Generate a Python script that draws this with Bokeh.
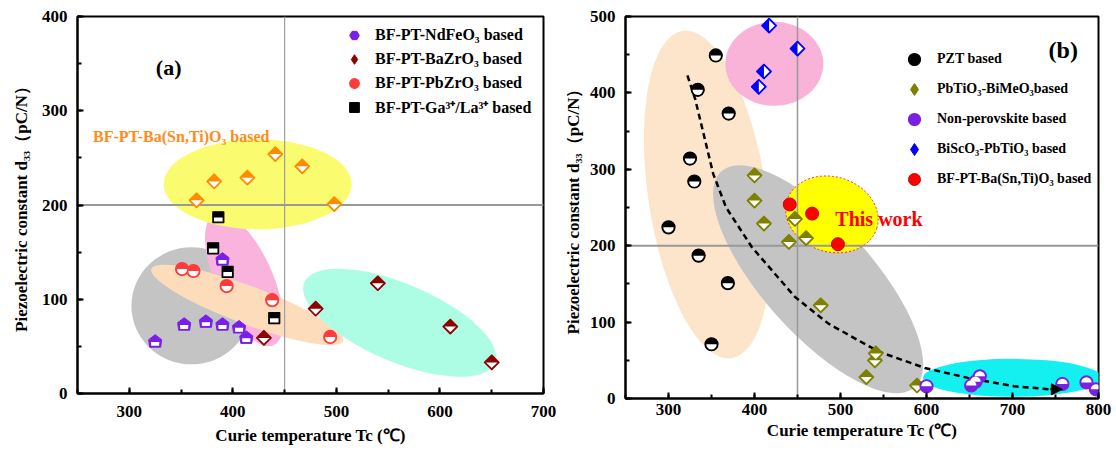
from math import pi
from bokeh.plotting import figure
from bokeh.models import (Range1d, Span, Label, Legend, LegendItem, Arrow, NormalHead,
                          SingleIntervalTicker)
from bokeh.layouts import row
from bokeh.embed import file_html
from bokeh.resources import INLINE

# ---------------- data: panel (a) ----------------
nd_x = [325, 353, 374, 390, 390, 406, 413]
nd_y = [55, 73, 76, 73, 142, 70, 59]
bz_x = [430, 480, 540, 610, 650]
bz_y = [59, 90, 117, 71, 33]
pz_x = [351, 362, 394, 438, 494]
pz_y = [132, 130, 114, 99, 60]
ga_x = [386, 381, 395, 440]
ga_y = [187, 154, 129, 80]
bsta_x = [365, 382, 414, 441, 467, 498]
bsta_y = [205, 225, 229, 254, 241, 201]

# ---------------- data: panel (b) ----------------
pzt_x = [355, 334, 370, 325, 330, 300, 335, 369, 350]
pzt_y = [449, 404, 373, 314, 284, 224, 187, 151, 71]
ptbm_x = [400, 400, 411, 440, 447, 460, 477, 541, 540, 530, 589]
ptbm_y = [292, 259, 229, 205, 235, 210, 122, 59, 50, 28, 17]
npv_x = [600, 652, 657, 662, 758, 786, 797]
npv_y = [16, 17, 22, 29, 19, 21, 12]
bsc_x = [417, 450, 411, 405]
bsc_y = [488, 458, 428, 408]
bstb_x = [441, 467, 497]
bstb_y = [254, 242, 202]
guide_x = [322, 331, 352, 367, 397, 447, 486, 532, 548, 598, 648, 702, 744]
guide_y = [423, 392, 294, 250, 198, 133, 98, 69, 60, 40, 27, 16, 12]
arrow_tip = (758, 12)

# ---------------- highlighted regions (center in data, size in screen px) ----------------
ra_x = [360, 411, 414, 424, 561]
ra_y = [93, 121, 94, 222, 75]
ra_w = [120, 144, 205, 188, 207]
ra_h = [117, 57, 38, 90, 78]
ra_a = [0.0, 1.99, -0.36, 0.0, -0.40]
ra_c = ["#c4c4c4", "#f9b3dc", "#fddcbb", "#fbfb6f", "#adfde5"]

rb_x = [345, 423, 700, 474, 490]
rb_y = [267, 438, 27, 156, 241]
rb_w = [331, 98, 179, 290, 94]
rb_h = [118, 84, 38, 110, 75]
rb_a = [1.72, 0.0, 0.0, -0.84, -0.3]
rb_c = ["#fde5cb", "#f9b3d9", "#14f0f0", "#c4c4c4", "#ffff00"]

FONT = "Liberation Serif"

# marker templates (screen px, y up)
PENT = [(0, 7), (6.5, 2), (5.5, -5.5), (-5.5, -5.5), (-6.5, 2)]
PENT_W = [(-4.2, -0.3), (4.2, -0.3), (3.9, -4.2), (-3.9, -4.2)]
DIA_BOT = [(-5.7, 0), (5.7, 0), (0, -5.7)]
DIA_RIGHT = [(0, 5.7), (5.7, 0), (0, -5.7)]
SQ_BOT = [(-4.3, -0.2), (4.3, -0.2), (4.3, -4.3), (-4.3, -4.3)]


def stamp(xs, ys, verts, kx, ky):
    px = [[x + vx * kx for vx, vy in verts] for x in xs]
    py = [[y + vy * ky for vx, vy in verts] for y in ys]
    return px, py


def make_fig(xr, yr, fw, fh, bl, br, bt, bb, xlstand, xastand, ylstand, yastand):
    p = figure(frame_width=fw, frame_height=fh, x_range=Range1d(*xr), y_range=Range1d(*yr),
               output_backend="svg", toolbar_location=None,
               min_border_left=bl, min_border_right=br, min_border_top=bt, min_border_bottom=bb)
    p.xgrid.visible = False
    p.ygrid.visible = False
    p.outline_line_color = "black"
    p.outline_line_width = 2
    p.outline_line_alpha = 1
    p.background_fill_color = "white"
    p.xaxis.ticker = SingleIntervalTicker(interval=100, num_minor_ticks=2)
    p.yaxis.ticker = SingleIntervalTicker(interval=100, num_minor_ticks=2)
    for ax in (p.xaxis[0], p.yaxis[0]):
        ax.axis_line_width = 2
        ax.axis_line_color = "black"
        ax.major_tick_in = 6
        ax.major_tick_out = 0
        ax.minor_tick_in = 4
        ax.minor_tick_out = 0
        ax.major_tick_line_width = 2
        ax.minor_tick_line_width = 2
        ax.major_label_text_font = FONT
        ax.major_label_text_font_style = "bold"
        ax.major_label_text_font_size = "17px"
        ax.major_label_text_color = "black"
        ax.axis_label_text_font = FONT
        ax.axis_label_text_font_style = "bold"
        ax.axis_label_text_font_size = "17px"
        ax.axis_label_text_color = "black"
    p.xaxis[0].major_label_standoff = xlstand
    p.xaxis[0].axis_label_standoff = xastand
    p.yaxis[0].major_label_standoff = ylstand
    p.yaxis[0].axis_label_standoff = yastand
    p.xaxis.axis_label = "Curie temperature Tc (\u2103)"
    p.yaxis.axis_label = "Piezoelectric constant d\u2083\u2083\uff08pC/N\uff09"
    return p


# ================= panel (a) =================
LFW, LFH = 466, 377
pa = make_fig((250, 700), (0, 400), LFW, LFH, 77, 17, 16, 59, 12, 6, 10, 8)
kxa = 450 / LFW
kya = 400 / LFH

pa.ellipse(x=ra_x, y=ra_y, width=ra_w, height=ra_h, angle=ra_a,
           width_units="screen", height_units="screen",
           fill_color=ra_c, line_color=None, level="image")
pa.add_layout(Span(location=450, dimension="height", line_color="#a0a0a0", line_width=1.2, level="underlay"))
pa.add_layout(Span(location=200, dimension="width", line_color="#999999", line_width=2.2, level="underlay"))

# NdFeO3 (pentagon, top half filled)
xs, ys = stamp(nd_x, nd_y, PENT, kxa, kya)
pa.patches(xs, ys, fill_color="#7a1fe8", line_color="#7a1fe8", line_width=1)
xs, ys = stamp(nd_x, nd_y, PENT_W, kxa, kya)
pa.patches(xs, ys, fill_color="white", line_color=None)
leg_nd = pa.scatter(nd_x, nd_y, marker="hex", size=0, fill_color="#7a1fe8", line_color="#7a1fe8")

# BaZrO3 diamonds
pa.scatter(bz_x, bz_y, marker="square", angle=pi / 4, size=10.5, fill_color="#8b0000", line_color="#8b0000", line_width=1.2)
xs, ys = stamp(bz_x, bz_y, DIA_BOT, kxa, kya)
pa.patches(xs, ys, fill_color="white", line_color=None)
leg_bz = pa.scatter(bz_x, bz_y, marker="diamond", size=0, fill_color="#8b0000", line_color="#8b0000")

# PbZrO3 circles
r_pz = pa.scatter(pz_x, pz_y, marker="circle", size=13, fill_color="#ff3b3b", line_color="#ff3b3b", line_width=1.2)
pa.wedge(pz_x, pz_y, radius=5.2, radius_units="screen", start_angle=pi, end_angle=2 * pi,
         fill_color="white", line_color=None)

# Ga/La squares
r_ga = pa.scatter(ga_x, ga_y, marker="square", size=11, fill_color="black", line_color="black", line_width=1.2)
xs, ys = stamp(ga_x, ga_y, SQ_BOT, kxa, kya)
pa.patches(xs, ys, fill_color="white", line_color=None)

# BF-PT-Ba(Sn,Ti)O3 diamonds (orange)
pa.scatter(bsta_x, bsta_y, marker="square", angle=pi / 4, size=10.5, fill_color="#ff8c00", line_color="#ff8c00", line_width=1.2)
xs, ys = stamp(bsta_x, bsta_y, DIA_BOT, kxa, kya)
pa.patches(xs, ys, fill_color="white", line_color=None)

leg_a = Legend(items=[
    LegendItem(label="BF-PT-NdFeO\u2083 based", renderers=[leg_nd]),
    LegendItem(label="BF-PT-BaZrO\u2083 based", renderers=[leg_bz]),
    LegendItem(label="BF-PT-PbZrO\u2083 based", renderers=[r_pz]),
    LegendItem(label="BF-PT-Ga\u00b3\u207a/La\u00b3\u207a based", renderers=[r_ga]),
], location=(262, 274), glyph_width=30, glyph_height=24, spacing=0, padding=0, margin=0,
    label_standoff=6, label_text_font=FONT, label_text_font_style="bold",
    label_text_font_size="16px", label_text_color="black",
    background_fill_alpha=0, border_line_alpha=0)
pa.add_layout(leg_a)

pa.add_layout(Label(x=338, y=346, text="(a)", text_align="center", text_baseline="middle",
                    text_font=FONT, text_font_style="bold", text_font_size="22px", text_color="black"))
pa.add_layout(Label(x=265, y=273, text="BF-PT-Ba(Sn,Ti)O\u2083 based", text_align="left", text_baseline="middle",
                    text_font=FONT, text_font_style="bold", text_font_size="16px", text_color="#ff8c1a"))

# ================= panel (b) =================
RFW, RFH = 473, 382
pb = make_fig((250, 800), (0, 500), RFW, RFH, 64, 19, 16, 54, 5, 3, 10, 4)
kxb = 550 / RFW
kyb = 500 / RFH

pb.ellipse(x=rb_x[:4], y=rb_y[:4], width=rb_w[:4], height=rb_h[:4], angle=rb_a[:4],
           width_units="screen", height_units="screen",
           fill_color=rb_c[:4], line_color=None, level="image")
pb.ellipse(x=rb_x[4:], y=rb_y[4:], width=rb_w[4:], height=rb_h[4:], angle=rb_a[4:],
           width_units="screen", height_units="screen",
           fill_color=rb_c[4:], line_color="#ff2a2a", line_width=1, line_dash="2 2", level="image")
pb.add_layout(Span(location=450, dimension="height", line_color="#999999", line_width=1.5, level="underlay"))
pb.add_layout(Span(location=200, dimension="width", line_color="#999999", line_width=2, level="underlay"))

pb.line(guide_x, guide_y, line_color="black", line_width=2.5, line_dash="6 4")
pb.add_layout(Arrow(end=NormalHead(size=11, fill_color="black", line_color="black"),
                    x_start=guide_x[-1], y_start=guide_y[-1], x_end=arrow_tip[0], y_end=arrow_tip[1],
                    line_color="black", line_width=2))

# PZT circles (top half black)
r_pzt = pb.scatter(pzt_x, pzt_y, marker="circle", size=13, fill_color="black", line_color="black", line_width=1.2)
pb.wedge(pzt_x, pzt_y, radius=5.2, radius_units="screen", start_angle=pi, end_angle=2 * pi,
         fill_color="white", line_color=None)

# PbTiO3-BiMeO3 diamonds (olive)
pb.scatter(ptbm_x, ptbm_y, marker="square", angle=pi / 4, size=10.5, fill_color="#7f7f00", line_color="#7f7f00", line_width=1.2)
xs, ys = stamp(ptbm_x, ptbm_y, DIA_BOT, kxb, kyb)
pb.patches(xs, ys, fill_color="white", line_color=None)
leg_ptbm = pb.scatter(ptbm_x, ptbm_y, marker="diamond", size=0, fill_color="#7f7f00", line_color="#7f7f00")

# Non-perovskite circles (bottom half purple)
r_npv = pb.scatter(npv_x, npv_y, marker="circle", size=13, fill_color="#7b1fe0", line_color="#7b1fe0", line_width=1.2)
pb.wedge(npv_x, npv_y, radius=5.2, radius_units="screen", start_angle=0, end_angle=pi,
         fill_color="white", line_color=None)

# BiScO3-PbTiO3 diamonds (left half blue)
pb.scatter(bsc_x, bsc_y, marker="square", angle=pi / 4, size=10.5, fill_color="#0000ff", line_color="#0000ff", line_width=1.2)
xs, ys = stamp(bsc_x, bsc_y, DIA_RIGHT, kxb, kyb)
pb.patches(xs, ys, fill_color="white", line_color=None)
leg_bsc = pb.scatter(bsc_x, bsc_y, marker="diamond", size=0, fill_color="#0000ff", line_color="#0000ff")

# BF-PT-Ba(Sn,Ti)O3 (red spheres)
r_bstb = pb.scatter(bstb_x, bstb_y, marker="circle", size=13, fill_color="#ff0000", line_color="#d00000", line_width=1)

leg_b = Legend(items=[
    LegendItem(label="PZT based", renderers=[r_pzt]),
    LegendItem(label="PbTiO\u2083-BiMeO\u2083based", renderers=[leg_ptbm]),
    LegendItem(label="Non-perovskite based", renderers=[r_npv]),
    LegendItem(label="BiScO\u2083-PbTiO\u2083 based", renderers=[leg_bsc]),
    LegendItem(label="BF-PT-Ba(Sn,Ti)O\u2083 based", renderers=[r_bstb]),
], location=(274, 204), glyph_width=30, glyph_height=30, spacing=0, padding=0, margin=0,
    label_standoff=8, label_text_font=FONT, label_text_font_style="bold",
    label_text_font_size="14px", label_text_color="black",
    background_fill_alpha=0, border_line_alpha=0)
pb.add_layout(leg_b)

pb.add_layout(Label(x=759, y=456, text="(b)", text_align="center", text_baseline="middle",
                    text_font=FONT, text_font_style="bold", text_font_size="24px", text_color="black"))
pb.add_layout(Label(x=494, y=235, text="This work", text_align="left", text_baseline="middle",
                    text_font=FONT, text_font_style="bold", text_font_size="20px", text_color="#ff0000"))

layout = row(pa, pb)
open("out.html", "w").write(file_html(layout, INLINE))
